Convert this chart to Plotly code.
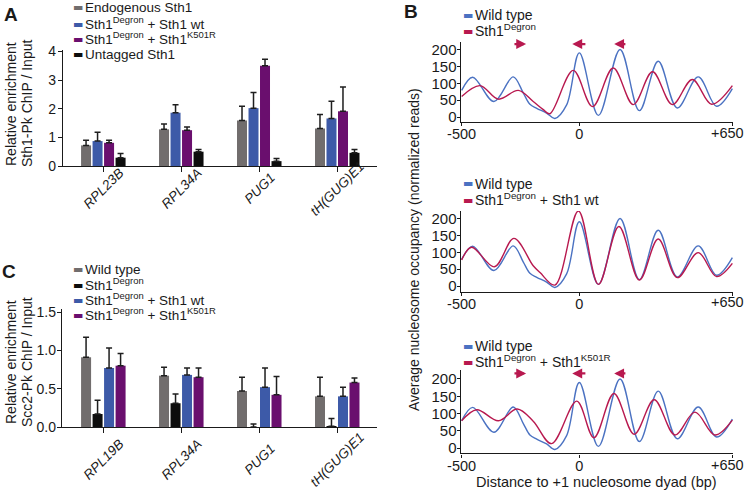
import plotly.graph_objects as go

W, H = 745, 498


def px(x):
    return x / W


def py(y):
    return 1 - y / H


FONT = "Arial, 'Liberation Sans', Helvetica, sans-serif"
AXC = "#1a1a1a"
ERR = "#1e1e1e"

# ---------------- Panel A data ----------------
genes_a = ["RPL23B", "RPL34A", "PUG1", "tH(GUG)E1"]
a_names = ["Endogenous Sth1", "Sth1<sup>Degron</sup> + Sth1 wt",
           "Sth1<sup>Degron</sup> + Sth1<sup>K501R</sup>", "Untagged Sth1"]
a_endogenous = [0.72, 1.28, 1.59, 1.31]
a_endogenous_err = [0.18, 0.19, 0.50, 0.49]
a_sth1_wt = [0.87, 1.86, 2.02, 1.66]
a_sth1_wt_err = [0.31, 0.28, 0.55, 0.60]
a_k501r = [0.81, 1.25, 3.50, 1.91]
a_k501r_err = [0.09, 0.11, 0.23, 0.85]
a_untagged = [0.29, 0.50, 0.17, 0.46]
a_untagged_err = [0.15, 0.08, 0.09, 0.12]
a_ticks = [0, 1, 2, 3, 4]

# ---------------- Panel C data ----------------
genes_c = ["RPL19B", "RPL34A", "PUG1", "tH(GUG)E1"]
c_names = ["Wild type", "Sth1<sup>Degron</sup>", "Sth1<sup>Degron</sup> + Sth1 wt",
           "Sth1<sup>Degron</sup> + Sth1<sup>K501R</sup>"]
c_wild_type = [0.91, 0.67, 0.47, 0.40]
c_wild_type_err = [0.26, 0.11, 0.18, 0.25]
c_degron = [0.17, 0.31, 0.00, 0.01]
c_degron_err = [0.18, 0.12, 0.04, 0.10]
c_sth1_wt = [0.77, 0.68, 0.52, 0.40]
c_sth1_wt_err = [0.26, 0.09, 0.25, 0.12]
c_k501r = [0.80, 0.65, 0.42, 0.58]
c_k501r_err = [0.16, 0.12, 0.24, 0.06]
c_ticks = [0, 0.5, 1.0, 1.5]
c_ticktext = ["0.0", "0.5", "1.0", "1.5"]

# ---------------- Panel B data ----------------
wt_bp = [-500, -453, -363, -281, -238, -210, -181, -139, -104, -54, 0, 81, 173, 255, 335, 416, 505, 583, 650]
wt_occ = [79, 118, 46, 119, 71, 38, 26, 12, -4, 36, 190, 5, 200, 19, 165, 27, 119, 32, 84]

degron_bp = [-500, -422, -344, -259, -196, -153, -125, -26, 56, 144, 229, 311, 395, 480, 562, 650]
degron_occ = [61, 93, 53, 79, 46, 22, 10, 138, 31, 145, 37, 134, 37, 111, 38, 93]

rescue_wt_bp = [-500, -458, -361, -278, -196, -167, -104, -4, 81, 168, 255, 335, 416, 505, 583, 650]
rescue_wt_occ = [77, 115, 57, 141, 60, 40, 3, 222, 5, 176, 18, 139, 25, 99, 28, 67]

rescue_k501r_bp = [-500, -436, -344, -264, -196, -118, -11, 62, 147, 233, 318, 406, 491, 576, 650]
rescue_k501r_occ = [79, 111, 79, 113, 78, 13, 136, 30, 158, 40, 140, 38, 104, 38, 81]

b_xticks = [-500, 0, 650]
b_xticktext = ["-500", "0", "+650"]
b_yticks = [0, 50, 100, 150, 200]

# shift arrows (tail -> head, in bp)
arrow_tails = [-282, 32, 202]
arrow_heads = [-226, -30, 148]
arrow_level = 216

GRAY = "#716d6d"
BLUE = "#3d5aa8"
PURPLE = "#6a0f6e"
BLACK = "#0d0d0d"
LBLUE = "#4b72c2"
RED = "#b8194f"

fig = go.Figure()


def add_bar(cats, vals, errs, color, xa, ya):
    fig.add_trace(go.Bar(
        x=cats, y=vals, marker=dict(color=color, line=dict(width=0)),
        error_y=dict(type="data", array=errs, arrayminus=[0] * len(errs), symmetric=False,
                     color=ERR, thickness=1.5, width=3),
        xaxis=xa, yaxis=ya, showlegend=False, hoverinfo="y"))


for v, e, c in [(a_endogenous, a_endogenous_err, GRAY), (a_sth1_wt, a_sth1_wt_err, BLUE),
                (a_k501r, a_k501r_err, PURPLE), (a_untagged, a_untagged_err, BLACK)]:
    add_bar(genes_a, v, e, c, "x", "y")

for v, e, c in [(c_wild_type, c_wild_type_err, GRAY), (c_degron, c_degron_err, BLACK),
                (c_sth1_wt, c_sth1_wt_err, BLUE), (c_k501r, c_k501r_err, PURPLE)]:
    add_bar(genes_c, v, e, c, "x2", "y2")


def add_line(x, y, color, xa, ya):
    fig.add_trace(go.Scatter(x=x, y=y, mode="lines",
                             line=dict(color=color, width=1.4, shape="spline", smoothing=1.0),
                             xaxis=xa, yaxis=ya, showlegend=False, hoverinfo="x+y"))


add_line(wt_bp, wt_occ, LBLUE, "x3", "y3")
add_line(degron_bp, degron_occ, RED, "x3", "y3")
add_line(wt_bp, wt_occ, LBLUE, "x4", "y4")
add_line(rescue_wt_bp, rescue_wt_occ, RED, "x4", "y4")
add_line(wt_bp, wt_occ, LBLUE, "x5", "y5")
add_line(rescue_k501r_bp, rescue_k501r_occ, RED, "x5", "y5")

axis_common = dict(showline=True, linecolor=AXC, linewidth=1.4, showgrid=False, zeroline=False,
                   ticks="outside", tickcolor=AXC, tickwidth=1.2, fixedrange=True, automargin=False,
                   ticklabeloverflow="allow")

layout = dict(
    width=W, height=H, autosize=False,
    margin=dict(l=0, r=0, t=0, b=0, pad=0, autoexpand=False),
    paper_bgcolor="white", plot_bgcolor="white",
    font=dict(family=FONT, color="#1a1a1a", size=14),
    barmode="group", bargap=0.41, bargroupgap=0.13,
    xaxis=dict(domain=[px(63), px(377)], anchor="y", type="category", range=[-0.517, 3.51],
               tickmode="array", tickvals=genes_a, showticklabels=False, ticklen=5, **axis_common),
    yaxis=dict(domain=[py(166), py(50)], anchor="x", range=[0, 4.05], tickvals=a_ticks,
               ticklen=4, tickfont=dict(size=14), ticklabelstandoff=-1, **axis_common),
    xaxis2=dict(domain=[px(62), px(377)], anchor="y2", type="category", range=[-0.53, 3.51],
                tickmode="array", tickvals=genes_c, showticklabels=False, ticklen=5, **axis_common),
    yaxis2=dict(domain=[py(427), py(309)], anchor="x2", range=[0, 1.54], tickvals=c_ticks,
                ticktext=c_ticktext, ticklen=4, tickfont=dict(size=14), ticklabelstandoff=-2,
                **axis_common),
)

b_domains = [(42, 121.5, [-13, 222]), (211, 291.5, [-16, 222]), (370, 453.3, [-15, 226])]
b_label_y = [133, 302, 465]
for i, (top, bot, yr) in enumerate(b_domains):
    n = i + 3
    # the last tick label sits at the very edge of the page; it is written as an annotation below
    layout[f"xaxis{n}"] = dict(domain=[px(460.7), px(733.3)], anchor=f"y{n}", range=[-504, 654],
                               tickvals=b_xticks, ticktext=b_xticktext[:-1] + [""], ticklen=3,
                               tickfont=dict(size=14.5), ticklabelstandoff=-4, **axis_common)
    layout[f"yaxis{n}"] = dict(domain=[py(bot), py(top)], anchor=f"x{n}", range=yr,
                               tickvals=b_yticks, ticklen=3, tickfont=dict(size=15),
                               ticklabelstandoff=-3, **axis_common)

fig.update_layout(**layout)

ann = []


def text(x, y, s, size=14, xanchor="left", bold=False, angle=0):
    ann.append(dict(x=px(x), y=py(y), xref="paper", yref="paper", text=f"<b>{s}</b>" if bold else s,
                    showarrow=False, xanchor=xanchor, yanchor="middle", textangle=angle, borderpad=0,
                    font=dict(size=size, family=FONT, color="#1a1a1a")))


def swatch(x, y, color):
    ann.append(dict(x=px(x), y=py(y), xref="paper", yref="paper", text="▬", showarrow=False,
                    xanchor="center", yanchor="middle", borderpad=0,
                    font=dict(size=11, family="DejaVu Sans", color=color)))


# rotated gene labels, centred under each category tick
for genes, xr, yc in [(genes_a, "x", 188), (genes_c, "x2", 459)]:
    for g in genes:
        ann.append(dict(x=g, y=py(yc), xref=xr, yref="paper", text=f"<i>{g}</i>", showarrow=False,
                        xanchor="center", yanchor="middle", textangle=-45, borderpad=0,
                        font=dict(size=13.5, family=FONT, color="#1a1a1a")))

# "+650" end labels of the three profile axes, kept inside the page
for yl in b_label_y:
    ann.append(dict(x=px(745), y=py(yl), xref="paper", yref="paper", text=b_xticktext[-1],
                    showarrow=False, xanchor="right", yanchor="middle", borderpad=0,
                    font=dict(size=14.5, family=FONT, color="#1a1a1a")))

# panel letters
text(11, 14, "A", size=19, xanchor="center", bold=True)
text(9, 271, "C", size=19, xanchor="center", bold=True)
text(411, 12, "B", size=19, xanchor="center", bold=True)

# A legend
for (yy, name, col) in zip([8, 23, 38, 54], a_names, [GRAY, BLUE, PURPLE, BLACK]):
    swatch(77.5, yy + (0 if "sup" not in name else 1.5), col)
    text(84, yy, name, size=13.5)

# C legend
for (yy, name, col) in zip([269, 284, 299, 314], c_names, [GRAY, BLACK, BLUE, PURPLE]):
    swatch(77.5, yy + (0 if "sup" not in name else 1.5), col)
    text(84, yy, name, size=13.5)

# A/C y titles
text(11, 104, "Relative enrichment", size=14, xanchor="center", angle=-90)
text(27, 104, "Sth1-Pk ChIP / Input", size=14, xanchor="center", angle=-90)
text(11, 362, "Relative enrichment", size=14, xanchor="center", angle=-90)
text(27, 362, "Scc2-Pk ChIP / Input", size=14, xanchor="center", angle=-90)

# B legends
b_leg = [(15, 30, "Sth1<sup>Degron</sup>"), (184, 199, "Sth1<sup>Degron</sup> + Sth1 wt"),
         (346, 361, "Sth1<sup>Degron</sup> + Sth1<sup>K501R</sup>")]
for y1, y2, name in b_leg:
    swatch(467.5, y1, LBLUE)
    text(474, y1, "Wild type", size=14)
    swatch(467.5, y2 + 1.5, RED)
    text(474, y2, name, size=14)

# B axis titles
text(414, 250, "Average nucleosome occupancy (normalized reads)", size=14, xanchor="center", angle=-90)
text(596, 482, "Distance to +1 nucleosome dyad (bp)", size=14.5, xanchor="center")

# shift arrows in top and bottom panels
for n in (3, 5):
    for t, h in zip(arrow_tails, arrow_heads):
        ann.append(dict(x=h, y=arrow_level, ax=t, ay=arrow_level, xref=f"x{n}", yref=f"y{n}",
                        axref=f"x{n}", ayref=f"y{n}", text="", showarrow=True, arrowhead=2,
                        arrowsize=0.9, arrowwidth=2.2, arrowcolor=RED, standoff=0, startstandoff=0))

fig.update_layout(annotations=ann)
fig.write_html(
    "out.html",
    config={"displayModeBar": False},
    post_script="document.documentElement.style.margin='0';document.body.style.margin='0';"
                "document.body.style.padding='0';document.body.style.overflow='hidden';",
)
